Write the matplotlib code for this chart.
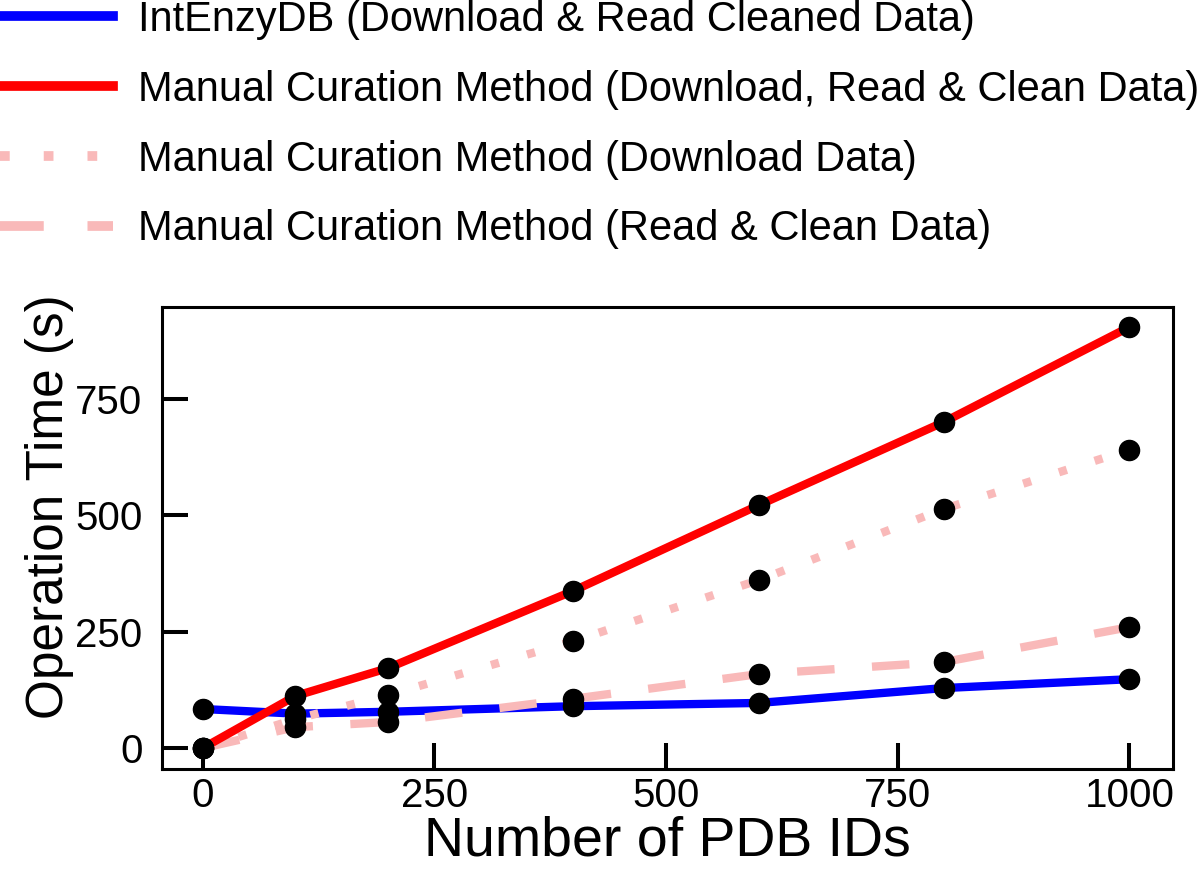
import matplotlib
matplotlib.use("Agg")
import matplotlib.pyplot as plt

plt.rcParams['font.family'] = ['Liberation Sans', 'DejaVu Sans']

n_ids = [0, 100, 200, 400, 600, 800, 1000]
intenzydb = [84, 74, 78, 90, 97, 129, 148]
manual_total = [0, 112, 172, 338, 522, 701, 905]
manual_download = [0, 62, 114, 230, 361, 514, 641]
manual_clean = [0, 45, 56, 106, 159, 185, 260]

labels = ['IntEnzyDB (Download & Read Cleaned Data)',
          'Manual Curation Method (Download, Read & Clean Data)',
          'Manual Curation Method (Download Data)',
          'Manual Curation Method (Read & Clean Data)']

pink = '#f9b9b9'

fig = plt.figure(figsize=[12, 8.72], dpi=100)
ax = fig.add_axes([0.135, 0.1181, 0.8425, 0.5299])

lw = 6
l1, = ax.plot(n_ids, intenzydb, color='blue', lw=lw, zorder=2)
l3, = ax.plot(n_ids, manual_download, color=pink, lw=lw, zorder=3,
              dashes=(1, 3.5), dash_capstyle='butt')
l4, = ax.plot(n_ids, manual_clean, color=pink, lw=lw, zorder=3,
              dashes=(4.5, 4.5), dash_capstyle='butt')
l2, = ax.plot(n_ids, manual_total, color='red', lw=lw, zorder=4)

for ys in [intenzydb, manual_total, manual_download, manual_clean]:
    ax.plot(n_ids, ys, 'o', color='black', ms=14.5, zorder=5)

ax.set_xlim(-44, 1047)
ax.set_ylim(-45, 948)
ax.set_xticks([0, 250, 500, 750, 1000])
ax.set_yticks([0, 250, 500, 750])
ax.tick_params(direction='in', length=18.5, width=2.9, labelsize=29)
ax.tick_params(axis='x', pad=6)
ax.tick_params(axis='y', pad=14)
for s in ax.spines.values():
    s.set_linewidth(2.2)

ax.set_xlabel('Number of PDB IDs', fontsize=40, labelpad=0)
ax.set_ylabel('Operation Time (s)', fontsize=37)
ax.yaxis.set_label_coords(-0.087, 0.567)

leg = fig.legend([l1, l2, l3, l4], labels, loc='upper left',
                 bbox_to_anchor=(0.0, 1.0), frameon=False, fontsize=30,
                 borderpad=0, borderaxespad=0,
                 handlelength=2.7, handletextpad=0.6, labelspacing=0.715)
for h in leg.get_lines():
    h.set_linewidth(7)

fig.savefig('out.png', dpi=100)
